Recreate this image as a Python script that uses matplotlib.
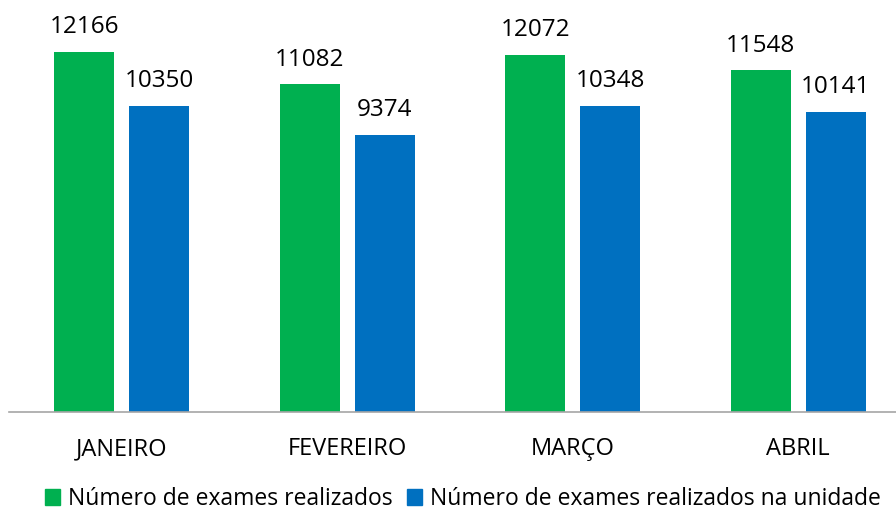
import matplotlib
matplotlib.use("Agg")
import matplotlib.pyplot as plt
import matplotlib.patches as mpatches
import numpy as np

# data
meses = ["JANEIRO", "FEVEREIRO", "MARÇO", "ABRIL"]
exames_realizados = [12166, 11082, 12072, 11548]
exames_unidade = [10350, 9374, 10348, 10141]
series_names = ["Número de exames realizados",
                "Número de exames realizados na unidade"]

green = "#00B050"
blue = "#0070C0"

plt.rcParams["font.family"] = ["Open Sans", "DejaVu Sans"]

fig = plt.figure(figsize=(8.96, 5.13), dpi=100)
# axes run a little past the right edge, as in the reference
ax = fig.add_axes([9 / 896, 1 - 412 / 513, 902 / 896, 412 / 513])

x = np.arange(len(meses))
width = 0.266
offset = (width + 0.0665) / 2

b1 = ax.bar(x - offset, exames_realizados, width, color=green)
b2 = ax.bar(x + offset, exames_unidade, width, color=blue)
ax.bar_label(b1, padding=9, fontsize=17.5)
ax.bar_label(b2, padding=9, fontsize=17.5)

ax.set_xlim(-0.5, len(meses) - 0.5)
ax.set_ylim(0, 13923)
ax.set_xticks(x)
ax.set_xticklabels(meses, fontsize=17)
ax.tick_params(axis="x", length=0, pad=18)
ax.set_yticks([])
for side in ["left", "right", "top"]:
    ax.spines[side].set_visible(False)
ax.spines["bottom"].set_color("#A6A6A6")
ax.spines["bottom"].set_linewidth(1.2)

handles = [mpatches.Patch(color=green), mpatches.Patch(color=blue)]
fig.legend(handles, series_names, loc="center", ncol=2,
           bbox_to_anchor=(463 / 896, 1 - 499 / 513), frameon=False,
           fontsize=16.5, handlelength=0.65, handleheight=0.65,
           handletextpad=0.35, columnspacing=0.65, borderpad=0)

fig.savefig("out.png", dpi=100)
